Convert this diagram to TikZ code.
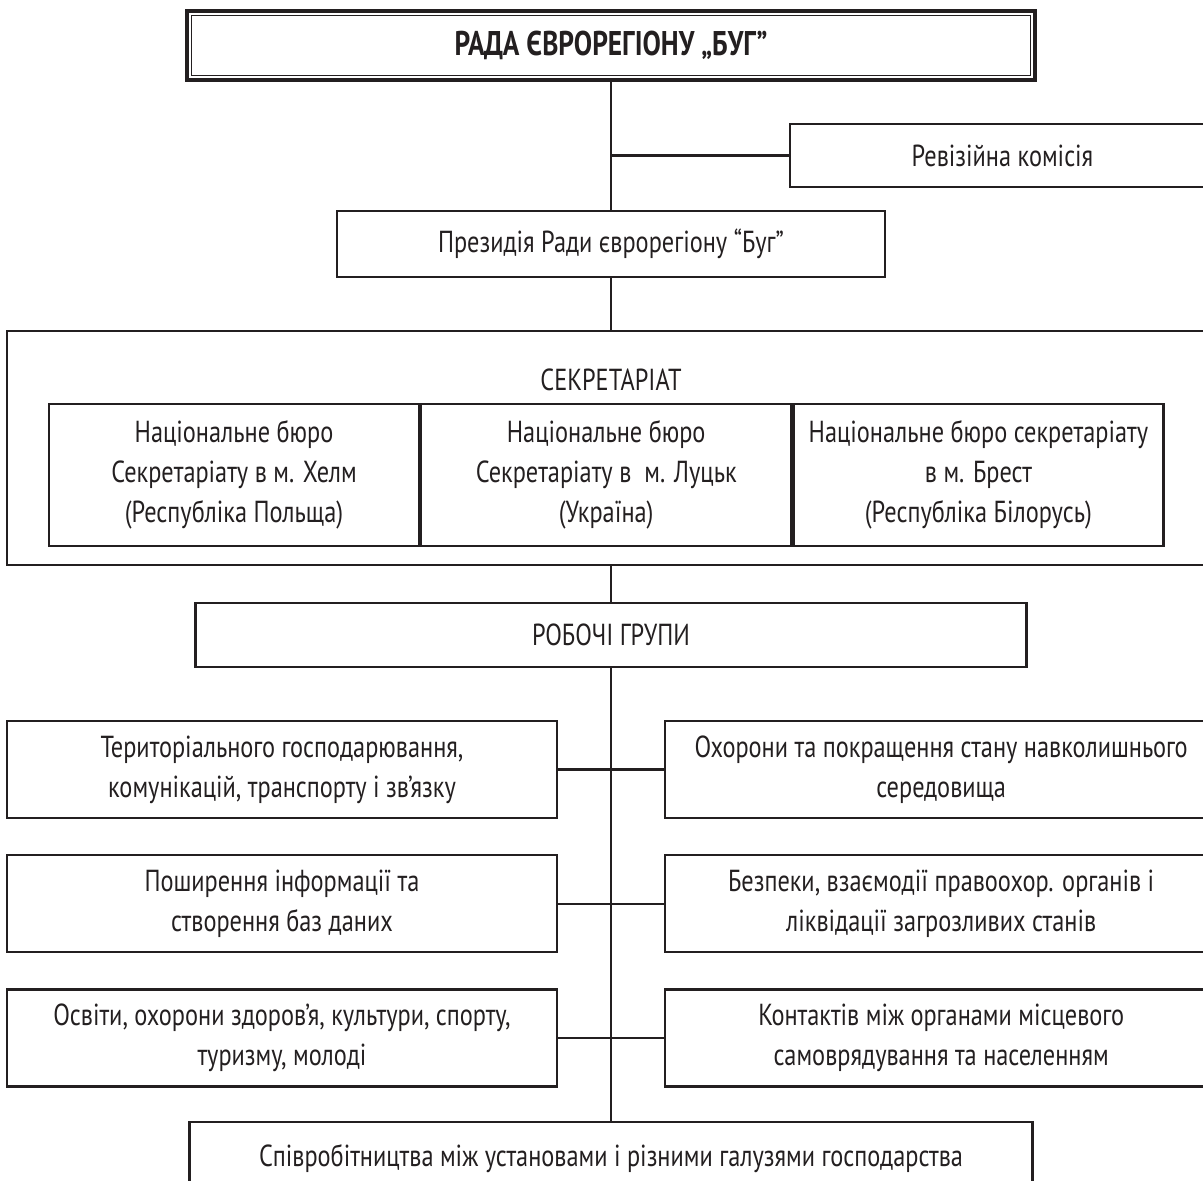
\documentclass[tikz,border=0pt]{standalone}
\usepackage{fontspec}
\setmainfont{PT Sans}[FakeStretch=0.8]
\usetikzlibrary{positioning}
\definecolor{ink}{HTML}{231F20}

\begin{document}
\begin{tikzpicture}[x=0.02cm, y=-0.02cm, line width=1.3pt, color=ink,
    box/.style={draw, rectangle, inner sep=0pt, align=center,
        font=\fontsize{17.3}{22.8}\selectfont},
    bureau/.style={box, minimum width=7.4cm, minimum height=2.84cm},
    grp/.style={box, minimum width=11cm, minimum height=1.94cm}]
    \useasboundingbox (0,0) rectangle (1203,1180);
    \clip (0,0) rectangle (1203,1180);

    \node[box, line width=2pt, minimum width=16.96cm, minimum height=1.38cm,
        font=\fontsize{19.5}{24}\selectfont\bfseries] (rada) at (611,45.5) {РАДА ЄВРОРЕГІОНУ „БУГ”};
    \draw[line width=0.8pt] ([shift={(6,6)}]rada.north west) rectangle ([shift={(-6,-6)}]rada.south east);
    \node[box, minimum width=8.5cm, minimum height=1.26cm] (rev) at (1002.5,155.5) {Ревізійна комісія};
    \node[box, minimum width=10.96cm, minimum height=1.32cm] (prez) at (611,244) {Президія Ради єврорегіону “Буг”};

    % secretariat with three bureaus
    \node[box, minimum width=24.16cm, minimum height=4.68cm] (sekr) at (611,448) {};
    \node[box, draw=none] (sekrtxt) at (611,380) {СЕКРЕТАРІАТ};
    \node[bureau] (hel) at (234,475) {Національне бюро\\Секретаріату в м. Хелм\\(Республіка Польща)};
    \node[bureau] (luc) [right=0pt of hel] {Національне бюро\\Секретаріату в\ \ м. Луцьк\\(Україна)};
    \node[bureau] (bre) [right=0pt of luc] {Національне бюро секретаріату\\в м. Брест\\(Республіка Білорусь)};

    \node[box, minimum width=16.62cm, minimum height=1.28cm] (rob) at (611,635) {РОБОЧІ ГРУПИ};

    % working groups
    \node[grp] (l1) at (282,769.5) {Територіального господарювання,\\комунікацій, транспорту і зв’язку};
    \node[grp] (l2) [below=0.7cm of l1] {Поширення інформації та\\створення баз даних};
    \node[grp] (l3) [below=0.7cm of l2] {Освіти, охорони здоров’я, культури, спорту,\\туризму, молоді};
    \node[grp, minimum width=11.04cm] (r1) [right=2.12cm of l1] {Охорони та покращення стану навколишнього\\середовища};
    \node[grp, minimum width=11.04cm] (r2) [right=2.12cm of l2] {Безпеки, взаємодії правоохор. органів і\\ліквідації загрозливих станів};
    \node[grp, minimum width=11.04cm] (r3) [right=2.12cm of l3] {Контактів між органами місцевого\\самоврядування та населенням};
    \node[box, minimum width=16.86cm, minimum height=1.46cm] (spiv) at (611,1158.5) {Співробітництва між установами і різними галузями господарства};

    \draw (rada.south) -- (prez.north)
          (rev.west) -- (rev.west -| rada.south)
          (prez.south) -- (prez.south |- sekr.north)
          (sekr.south -| rob.north) -- (rob.north)
          (rob.south) -- (spiv.north)
          (l1.east) -- (r1.west)
          (l2.east) -- (r2.west)
          (l3.east) -- (r3.west);
\end{tikzpicture}
\end{document}
